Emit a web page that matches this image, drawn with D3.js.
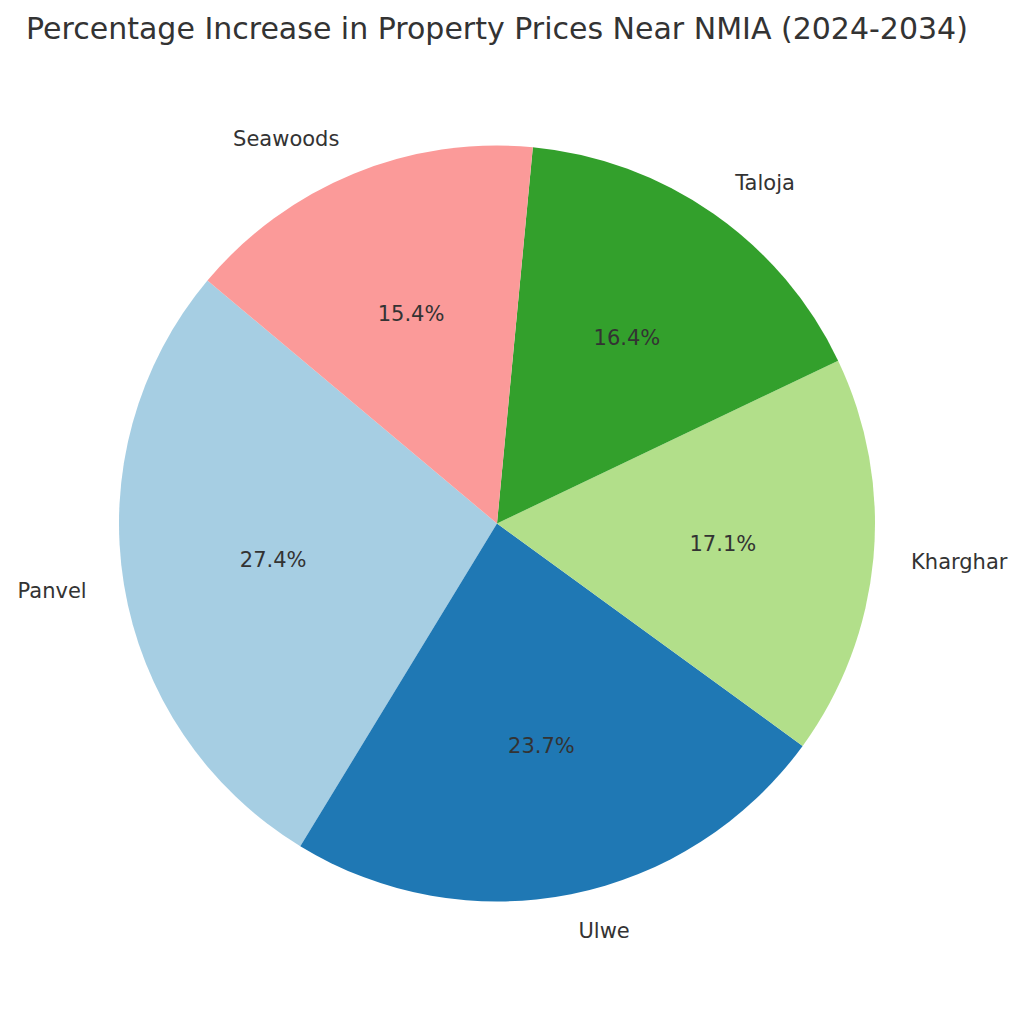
<!DOCTYPE html>
<html>
<head>
<meta charset="utf-8">
<script src="https://cdn.jsdelivr.net/npm/d3@7"></script>
<style>
  body { margin: 0; background: #fff; }
  text { font-family: "DejaVu Sans", sans-serif; fill: #333; }
</style>
</head>
<body>
<div id="chart"></div>
<script>
const areas = ["Panvel", "Ulwe", "Kharghar", "Taloja", "Seawoods"];
const shares = [27.4, 23.7, 17.1, 16.4, 15.4];
const colors = ["#a6cee3", "#1f78b4", "#b2df8a", "#33a02c", "#fb9a99"];

const width = 1024, height = 1012;
const cx = 497, cy = 523.5, radius = 378;

const data = areas.map((a, i) => ({ area: a, value: shares[i], color: colors[i] }));

const svg = d3.select("#chart").append("svg")
  .attr("width", width)
  .attr("height", height);

// Title
svg.append("text")
  .attr("x", cx)
  .attr("y", 39)
  .attr("text-anchor", "middle")
  .style("font-size", "30px")
  .text("Percentage Increase in Property Prices Near NMIA (2024-2034)");

// matplotlib-style: start at 140deg, counterclockwise
const start = (90 - 140) * Math.PI / 180;
const pie = d3.pie()
  .sort(null)
  .value(d => d.value)
  .startAngle(start)
  .endAngle(start - 2 * Math.PI);

const arcs = pie(data);
const arc = d3.arc().innerRadius(0).outerRadius(radius);

const g = svg.append("g").attr("transform", `translate(${cx},${cy})`);

g.selectAll("path")
  .data(arcs)
  .enter()
  .append("path")
  .attr("d", arc)
  .attr("fill", d => d.data.color);

function midPoint(d, k) {
  const a = (d.startAngle + d.endAngle) / 2;
  return [k * radius * Math.sin(a), -k * radius * Math.cos(a)];
}

// Category labels outside
g.selectAll(".lbl")
  .data(arcs)
  .enter()
  .append("text")
  .attr("class", "lbl")
  .attr("x", d => midPoint(d, 1.1)[0])
  .attr("y", d => midPoint(d, 1.1)[1])
  .attr("dy", "0.33em")
  .attr("text-anchor", d => midPoint(d, 1.1)[0] < 0 ? "end" : "start")
  .style("font-size", "21px")
  .text(d => d.data.area);

// Percent labels inside
g.selectAll(".pct")
  .data(arcs)
  .enter()
  .append("text")
  .attr("class", "pct")
  .attr("x", d => midPoint(d, 0.6)[0])
  .attr("y", d => midPoint(d, 0.6)[1])
  .attr("dy", "0.33em")
  .attr("text-anchor", "middle")
  .style("font-size", "21px")
  .text(d => d.data.value.toFixed(1) + "%");
</script>
</body>
</html>
